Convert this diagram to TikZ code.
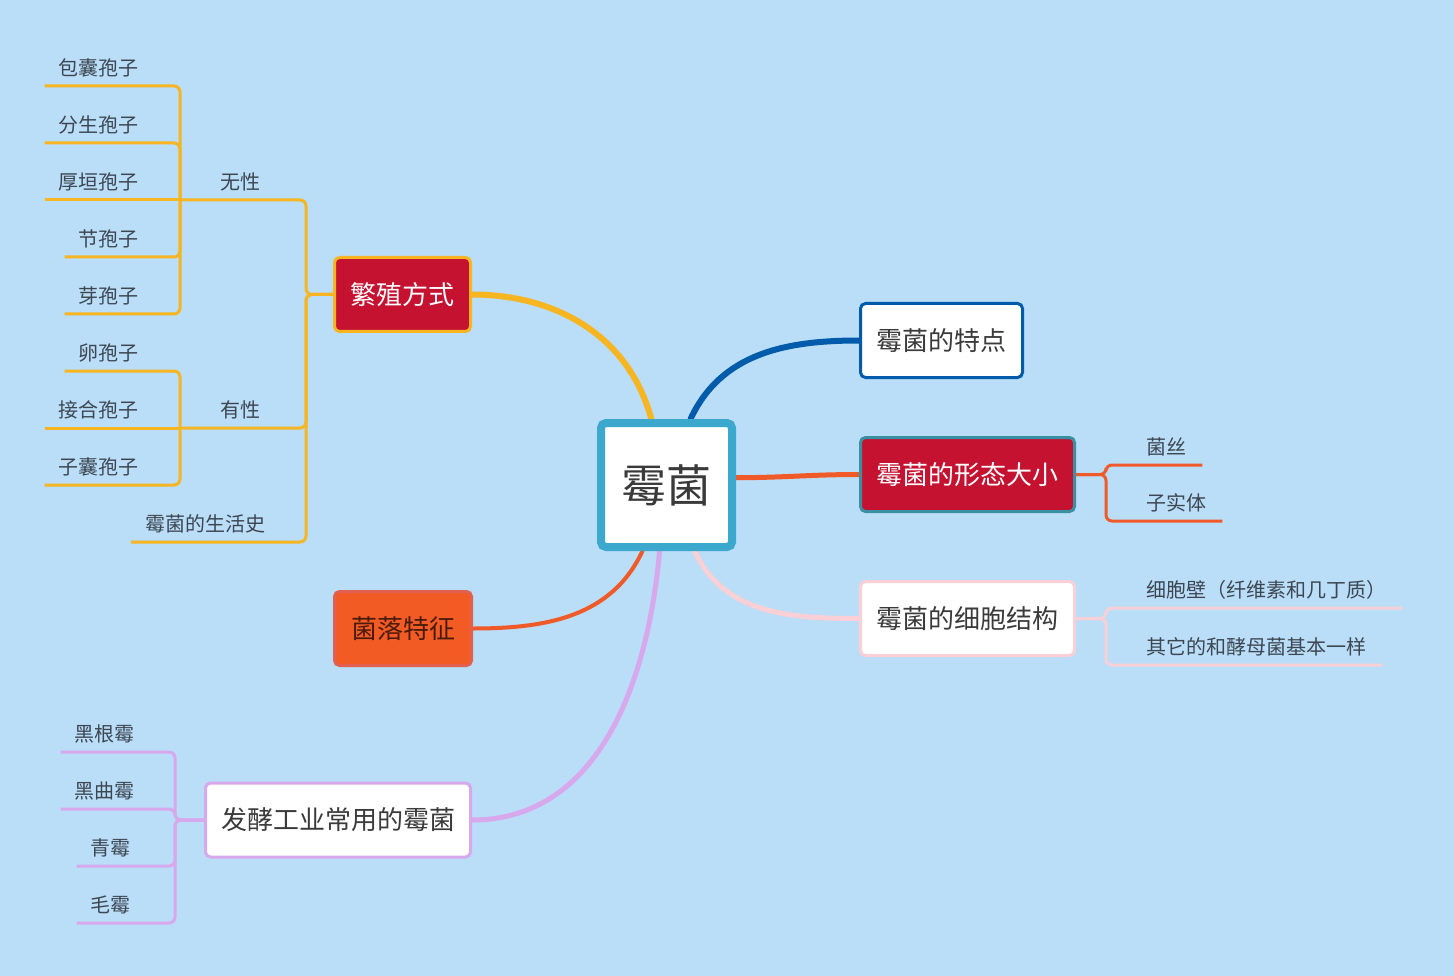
\documentclass[tikz,border=0pt]{standalone}
\usepackage{fontspec}
\setmainfont{Noto Sans CJK SC}
\usepackage{tikz}

\definecolor{bgblue}{HTML}{BADDF8}
\definecolor{rootteal}{HTML}{3CA8CE}
\definecolor{crimson}{HTML}{C41230}
\definecolor{mustard}{HTML}{F7B522}
\definecolor{navy}{HTML}{005CAA}
\definecolor{tangerine}{HTML}{F05A28}
\definecolor{tealedge}{HTML}{3A8FA3}
\definecolor{blush}{HTML}{FAD0D6}
\definecolor{lilac}{HTML}{D8A8EC}
\definecolor{coral}{HTML}{F35B25}
\definecolor{coraledge}{HTML}{E2604F}
\definecolor{inkgray}{HTML}{3A3A3A}
\definecolor{leafgray}{HTML}{3D4752}
\definecolor{rust}{HTML}{4B1B0B}

\pgfdeclarelayer{bg}
\pgfdeclarelayer{edges}
\pgfsetlayers{bg,edges,main}

\tikzset{
    root/.style={draw=rootteal, line width=8, fill=white, rounded corners=5,
        minimum width=131, minimum height=124, text=inkgray,
        font=\fontsize{45}{50}\selectfont},
    topic/.style={line width=3, rounded corners=5, minimum height=74,
        inner xsep=0, font=\fontsize{26}{30}\selectfont},
    leaf/.style={inner xsep=14, inner ysep=7, text height=17, text depth=3,
        text=leafgray, font=\fontsize{20}{24}\selectfont},
    trunk/.style={line width=3, rounded corners=6},
    mainline/.style={line width=6, line cap=round},
}

\begin{document}
\begin{tikzpicture}[x=1pt, y=1pt]
        \useasboundingbox (0,0) rectangle (1454,-976);

        % Central topic
        \node[root] (root) at (666.5,-485) {霉菌};

        % Main topics
        \node[topic, draw=mustard, fill=crimson, text=white, minimum width=136] (fz) at (402.5,-294.5) {繁殖方式};
        \node[topic, draw=coraledge, fill=coral, text=rust, minimum width=137] (jl) at (403,-628.5) {菌落特征};
        \node[topic, draw=lilac, fill=white, text=inkgray, minimum width=265] (fj) at (338,-820) {发酵工业常用的霉菌};
        \node[topic, draw=navy, fill=white, text=inkgray, minimum width=162] (tz) at (941.5,-340.5) {霉菌的特点};
        \node[topic, draw=tealedge, fill=crimson, text=white, minimum width=214] (xt) at (967.5,-474.5) {霉菌的形态大小};
        \node[topic, draw=blush, fill=white, text=inkgray, minimum width=214] (xb) at (967.5,-618.5) {霉菌的细胞结构};

        % Reproduction: asexual / sexual / life history
        \node[leaf, anchor=south west, inner xsep=40] (wx) at (180,-200) {无性};
        \node[leaf, anchor=south west, inner xsep=40] (ys) at (180,-428) {有性};
        \node[leaf, anchor=south west] (shs) at (131,-542) {霉菌的生活史};

        % Asexual spores
        \node[leaf, anchor=south east] (bn) at (153,-86) {包囊孢子};
        \node[leaf, anchor=south east] (fs) at (153,-143) {分生孢子};
        \node[leaf, anchor=south east] (hy) at (153,-200) {厚垣孢子};
        \node[leaf, anchor=south east] (jb) at (153,-257) {节孢子};
        \node[leaf, anchor=south east] (yb) at (153,-314) {芽孢子};

        % Sexual spores
        \node[leaf, anchor=south east] (lb) at (153,-371) {卵孢子};
        \node[leaf, anchor=south east] (jh) at (153,-428) {接合孢子};
        \node[leaf, anchor=south east] (zn) at (153,-485) {子囊孢子};

        % Shape and size
        \node[leaf, anchor=south west, inner xsep=16] (js) at (1130,-465) {菌丝};
        \node[leaf, anchor=south west, inner xsep=16] (zs) at (1130,-521) {子实体};

        % Cell structure
        \node[leaf, anchor=south west, inner xsep=16] (xbb) at (1130,-608) {细胞壁（纤维素和几丁质）};
        \node[leaf, anchor=south west, inner xsep=16] (qt) at (1130,-665) {其它的和酵母菌基本一样};

        % Industrial moulds
        \node[leaf, anchor=south east] (hg) at (149,-752) {黑根霉};
        \node[leaf, anchor=south east] (hq) at (149,-809) {黑曲霉};
        \node[leaf, anchor=south east] (qm) at (145,-866) {青霉};
        \node[leaf, anchor=south east] (mm) at (145,-923) {毛霉};

        % Junction points of the brackets
        \coordinate (fzj) at ([xshift=-27]fz.west);
        \coordinate (fjj) at ([xshift=-29]fj.west);
        \coordinate (xtj) at ([xshift=30]xt.east);
        \coordinate (xbj) at ([xshift=30]xb.east);

        \begin{pgfonlayer}{edges}
            % Lines from the central topic
            \draw[mainline, mustard] (root.103) to[out=105,in=0] (fz.east);
            \draw[mainline, navy] (root.70) to[out=65,in=180] (tz.west);
            \draw[mainline, tangerine, line width=5] (root.6) to[out=0,in=180] (xt.west);
            \draw[mainline, blush, line width=5] (root.-67) to[out=-65,in=180] (xb.west);
            \draw[mainline, tangerine, line width=4] (root.-110) to[out=-115,in=0] (jl.east);
            \draw[mainline, lilac, line width=5] (root.-96) to[out=-95,in=0] (fj.east);

            % Reproduction bracket
            \draw[trunk, mustard] (wx.south west) -| (fzj) -- (fz.west);
            \draw[trunk, mustard] (ys.south west) -| (fzj) -- (fz.west);
            \draw[trunk, mustard] (shs.south west) -| (fzj) -- (fz.west);
            \draw[trunk, mustard] (bn.south west) -| (wx.south west);
            \draw[trunk, mustard] (fs.south west) -| (wx.south west);
            \draw[trunk, mustard] (hy.south west) -- (wx.south west);
            \draw[trunk, mustard] (jb.south west) -| (wx.south west);
            \draw[trunk, mustard] (yb.south west) -| (wx.south west);
            \draw[trunk, mustard] (lb.south west) -| (ys.south west);
            \draw[trunk, mustard] (jh.south west) -- (ys.south west);
            \draw[trunk, mustard] (zn.south west) -| (ys.south west);

            % Shape and size bracket
            \draw[trunk, tangerine] (xt.east) -- (xtj) |- (js.south west) -- (js.south east);
            \draw[trunk, tangerine] (xt.east) -- (xtj) |- (zs.south west) -- (zs.south east);

            % Cell structure bracket
            \draw[trunk, blush] (xb.east) -- (xbj) |- (xbb.south west) -- (xbb.south east);
            \draw[trunk, blush] (xb.east) -- (xbj) |- (qt.south west) -- (qt.south east);

            % Industrial moulds bracket
            \draw[trunk, lilac] (hg.south west) -| (fjj) -- (fj.west);
            \draw[trunk, lilac] (hq.south west) -| (fjj) -- (fj.west);
            \draw[trunk, lilac] (qm.south west) -| (fjj) -- (fj.west);
            \draw[trunk, lilac] (mm.south west) -| (fjj) -- (fj.west);
        \end{pgfonlayer}

        % Background
        \begin{pgfonlayer}{bg}
            \fill[bgblue] (0,0) rectangle (1454,-976);
        \end{pgfonlayer}

    \end{tikzpicture}
\end{document}
